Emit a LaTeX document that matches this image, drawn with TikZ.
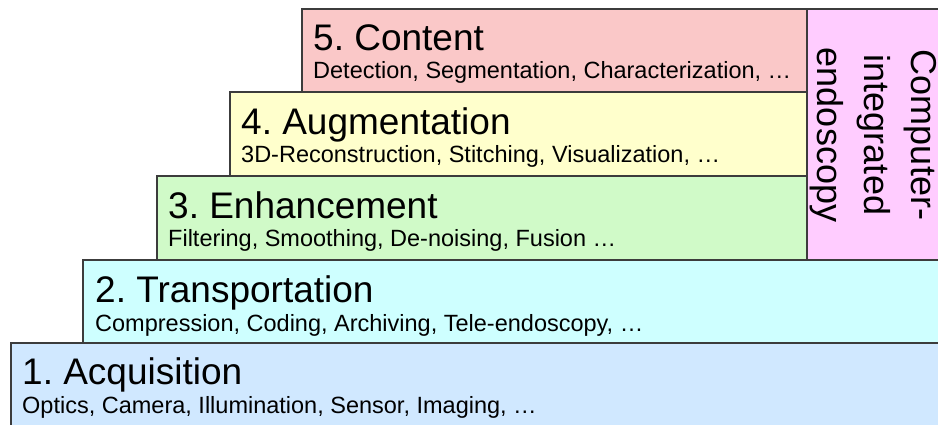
\documentclass[tikz,border=0pt]{standalone}
\usepackage{fontspec}
\setmainfont{Liberation Sans}
\frenchspacing
\definecolor{cpink}{RGB}{250,200,200}
\definecolor{cyellow}{RGB}{255,255,204}
\definecolor{cgreen}{RGB}{208,250,200}
\definecolor{ccyan}{RGB}{206,255,255}
\definecolor{cblue}{RGB}{208,232,255}
\definecolor{cpurple}{RGB}{255,204,255}
\definecolor{cborder}{RGB}{60,60,60}
\tikzset{
  layerbox/.style={draw=cborder, line width=1.4pt},
  ttl/.style={anchor=base west, inner sep=0pt, font=\fontsize{37}{41}\selectfont},
  sub/.style={anchor=base west, inner sep=0pt, font=\fontsize{23.5}{28}\selectfont},
}
\begin{document}
\begin{tikzpicture}[x=1pt,y=-1pt]
\useasboundingbox (0,0) rectangle (938,424);
\clip (0,0) rectangle (938,424);
% boxes
\path[layerbox, fill=cblue]   (11,343) rectangle (960,450);
\path[layerbox, fill=ccyan]   (83,260) rectangle (960,343);
\path[layerbox, fill=cgreen]  (157,176) rectangle (807,260);
\path[layerbox, fill=cyellow] (230,92) rectangle (807,176);
\path[layerbox, fill=cpink]   (302,9) rectangle (807,92);
\path[layerbox, fill=cpurple] (807,9) rectangle (960,260);
% texts
\node[ttl] (t5) at (313,50) {5. Content};
\node[sub] (s5) at (313,78) {Detection, Segmentation, Characterization, …};
\node[ttl] (t4) at (241,134) {4. Augmentation};
\node[sub] (s4) at (241,162) {3D-Reconstruction, Stitching, Visualization, …};
\node[ttl] (t3) at (168,218) {3. Enhancement};
\node[sub] (s3) at (168,246) {Filtering, Smoothing, De-noising, Fusion …};
\node[ttl] (t2) at (95,302) {2. Transportation};
\node[sub] (s2) at (95,331) {Compression, Coding, Archiving, Tele-endoscopy, …};
\node[ttl] (t1) at (22,384) {1. Acquisition};
\node[sub] (s1) at (22,413) {Optics, Camera, Illumination, Sensor, Imaging, …};
\node[rotate=-90, align=center, inner sep=0pt, font=\fontsize{36}{47}\selectfont] (cie) at (873,135) {Computer-\\integrated\\endoscopy};
\end{tikzpicture}
\end{document}
